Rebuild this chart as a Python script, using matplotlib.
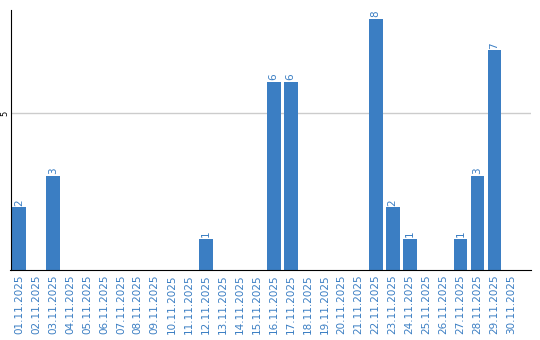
import matplotlib
matplotlib.use('Agg')
import matplotlib.pyplot as plt

# data
days = ['%02d.11.2025' % d for d in range(1, 31)]
counts = [2, 0, 3, 0, 0, 0, 0, 0, 0, 0,
          0, 1, 0, 0, 0, 6, 6, 0, 0, 0,
          0, 8, 2, 1, 0, 0, 1, 3, 7, 0]
yticks = [5]

bar_color = '#3b7ec3'

fig = plt.figure(figsize=(5.4, 3.4), dpi=100)
ax = fig.add_axes([10.5 / 540, 70 / 340, 520.5 / 540, 260 / 340])

x = list(range(len(days)))
bars = ax.bar(x, counts, width=0.82, color=bar_color, zorder=2)

# labels on top of the bars (only non-zero)
for xi, v in zip(x, counts):
    if v > 0:
        ax.text(xi, v + 0.05, str(v), rotation=90, ha='center', va='bottom',
                fontsize=7.5, color=bar_color)

ax.set_xlim(-0.5, 30.15)
ax.set_ylim(0, 8.28)
ax.set_xticks(x)
ax.set_xticklabels(days, rotation=90, fontsize=7.5, color=bar_color)
ax.set_yticks(yticks)
ax.set_yticklabels([str(t) for t in yticks], rotation=90, fontsize=6, va='center')
ax.tick_params(axis='both', length=0, pad=3)
ax.tick_params(axis='y', pad=1)

ax.grid(axis='y', color='#cccccc', linewidth=1, zorder=0)
ax.spines['top'].set_visible(False)
ax.spines['right'].set_visible(False)
ax.spines['left'].set_color('black')
ax.spines['bottom'].set_color('black')
ax.spines['left'].set_zorder(3)
ax.spines['bottom'].set_zorder(3)

plt.savefig('out.png', dpi=100)
